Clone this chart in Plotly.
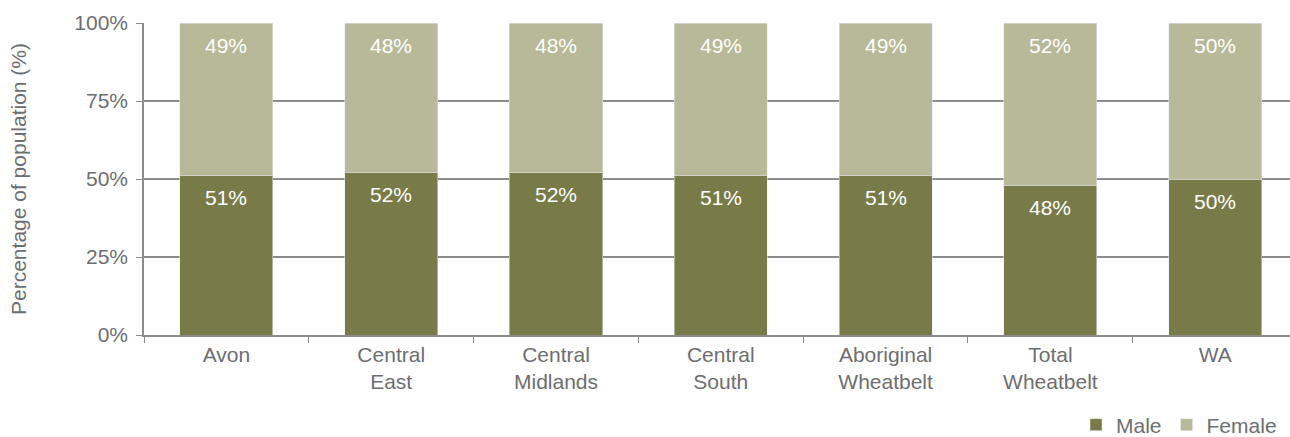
import plotly.graph_objects as go

categories = ["Avon", "Central<br>East", "Central<br>Midlands", "Central<br>South",
              "Aboriginal<br>Wheatbelt", "Total<br>Wheatbelt", "WA"]
male = [51, 52, 52, 51, 51, 48, 50]
female = [49, 48, 48, 49, 49, 52, 50]
y_ticks = [0, 25, 50, 75, 100]
y_tick_labels = ["0%", "25%", "50%", "75%", "100%"]

MALE_COLOR = "#787b48"
FEMALE_COLOR = "#b8b998"
FONT = "Liberation Sans, Arial, sans-serif"
GREY = "#6d6e71"
LINE = "#8c8c8c"
FS = 21

fig = go.Figure()
fig.add_trace(go.Bar(x=categories, y=male, name="Male", marker_color=MALE_COLOR, width=0.565))
fig.add_trace(go.Bar(x=categories, y=female, name="Female", marker_color=FEMALE_COLOR, width=0.565))

# value labels sit just below the top of each stacked segment
annotations = []
for cat, m, f in zip(categories, male, female):
    for top, val in ((m, m), (m + f, f)):
        annotations.append(dict(
            x=cat, y=top, xref="x", yref="y", text=f"{val}%", showarrow=False,
            yanchor="middle", yshift=-22, font=dict(color="white", size=FS, family=FONT),
        ))

fig.update_layout(
    barmode="stack",
    width=1290, height=437,
    margin=dict(l=144, r=0, t=23, b=102, autoexpand=False),
    plot_bgcolor="white", paper_bgcolor="white",
    font=dict(family=FONT, size=FS, color=GREY),
    showlegend=True,
    legend=dict(orientation="h", xref="container", yref="container",
                x=1076 / 1290, y=1 - 425 / 437, xanchor="left", yanchor="middle",
                font=dict(size=FS, color=GREY), traceorder="normal",
                itemwidth=30),
    annotations=annotations,
)
fig.update_xaxes(
    range=[-0.5, 6.454], showline=True, linecolor=LINE, linewidth=1.5,
    ticks="outside", tickson="boundaries", ticklen=6, tickcolor=LINE,
    tickfont=dict(size=FS, color=GREY), showgrid=False,
)
fig.update_yaxes(
    range=[0, 100], tickvals=y_ticks, ticktext=y_tick_labels,
    showline=True, linecolor=LINE, linewidth=1.5,
    ticks="outside", ticklen=6, tickcolor=LINE, ticklabelstandoff=4,
    showgrid=True, gridcolor=LINE, gridwidth=1.5,
    tickfont=dict(size=FS, color=GREY),
    title=dict(text="Percentage of population (%)", font=dict(size=FS, color=GREY), standoff=42),
)

fig.write_html("out.html")
